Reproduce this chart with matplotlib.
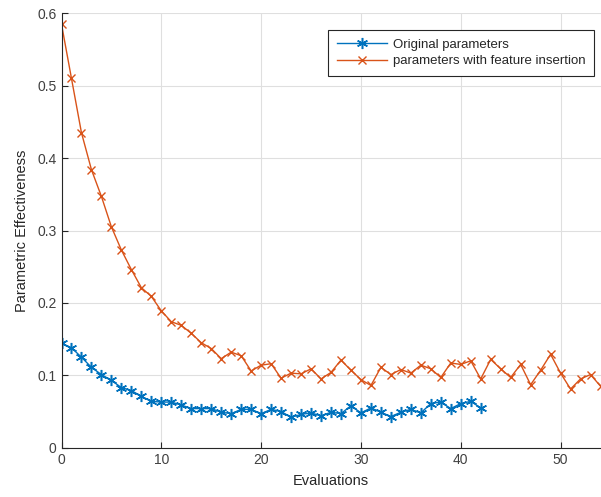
import matplotlib
matplotlib.use("Agg")
import matplotlib.pyplot as plt
import numpy as np

plt.rcParams['font.family'] = ['Liberation Sans', 'DejaVu Sans']

# Parametric effectiveness per evaluation
original = [0.144, 0.138, 0.125, 0.111, 0.101, 0.093, 0.083, 0.079, 0.071, 0.064,
            0.063, 0.063, 0.059, 0.054, 0.054, 0.054, 0.049, 0.047, 0.053, 0.053,
            0.047, 0.053, 0.050, 0.042, 0.046, 0.048, 0.044, 0.049, 0.047, 0.058,
            0.048, 0.055, 0.049, 0.043, 0.049, 0.053, 0.048, 0.061, 0.063, 0.054,
            0.061, 0.064, 0.055]
with_insertion = [0.585, 0.510, 0.435, 0.384, 0.347, 0.305, 0.273, 0.246, 0.221, 0.209,
                  0.189, 0.174, 0.169, 0.158, 0.145, 0.137, 0.123, 0.132, 0.127, 0.106,
                  0.114, 0.116, 0.096, 0.103, 0.102, 0.109, 0.095, 0.104, 0.121, 0.107,
                  0.094, 0.086, 0.111, 0.101, 0.108, 0.103, 0.114, 0.109, 0.097, 0.117,
                  0.115, 0.120, 0.095, 0.122, 0.109, 0.097, 0.115, 0.087, 0.107, 0.129,
                  0.103, 0.081, 0.095, 0.101, 0.085]

labels = ['Original parameters', 'parameters with feature insertion']

fig = plt.figure(figsize=(6.01, 4.97), dpi=100)
ax = fig.add_axes([61.5 / 601, 49.3 / 497, 539 / 601, 434.4 / 497])

# MATLAB-style asterisk: 6 arms
ax.plot(np.arange(len(original)), original, color='#0072BD', marker=(6, 2, 0),
        markersize=8, markeredgewidth=1.1, linewidth=1, label=labels[0])
ax.plot(np.arange(len(with_insertion)), with_insertion, color='#D95319', marker='x',
        markersize=6, markeredgewidth=1.0, linewidth=1, label=labels[1])

ax.set_xlim(0, 54)
ax.set_ylim(0, 0.6)
ax.set_xticks(np.arange(0, 51, 10))
ax.set_yticks(np.arange(0, 0.61, 0.1))
ax.set_yticklabels(['0', '0.1', '0.2', '0.3', '0.4', '0.5', '0.6'])
ax.grid(True, color='#DFDFDF', linewidth=0.8)
ax.set_axisbelow(True)

for side in ['top', 'right']:
    ax.spines[side].set_visible(False)
for side in ['left', 'bottom']:
    ax.spines[side].set_color('#262626')
    ax.spines[side].set_linewidth(0.8)
ax.tick_params(direction='in', length=4, width=0.8, colors='#262626',
               labelsize=10, labelcolor='#404040')

ax.set_xlabel('Evaluations', fontsize=10.5, color='#262626', labelpad=5)
ax.set_ylabel('Parametric Effectiveness', fontsize=10.5, color='#262626', labelpad=6)

leg = ax.legend(loc='upper right', bbox_to_anchor=(0.988, 0.961), fontsize=9.5,
                fancybox=False, edgecolor='#262626', framealpha=1,
                handlelength=3.8, handletextpad=0.45, borderpad=0.65,
                labelspacing=0.3, borderaxespad=0)
leg.get_frame().set_linewidth(0.8)
for txt in leg.get_texts():
    txt.set_color('#262626')

fig.savefig('out.png', dpi=100)
